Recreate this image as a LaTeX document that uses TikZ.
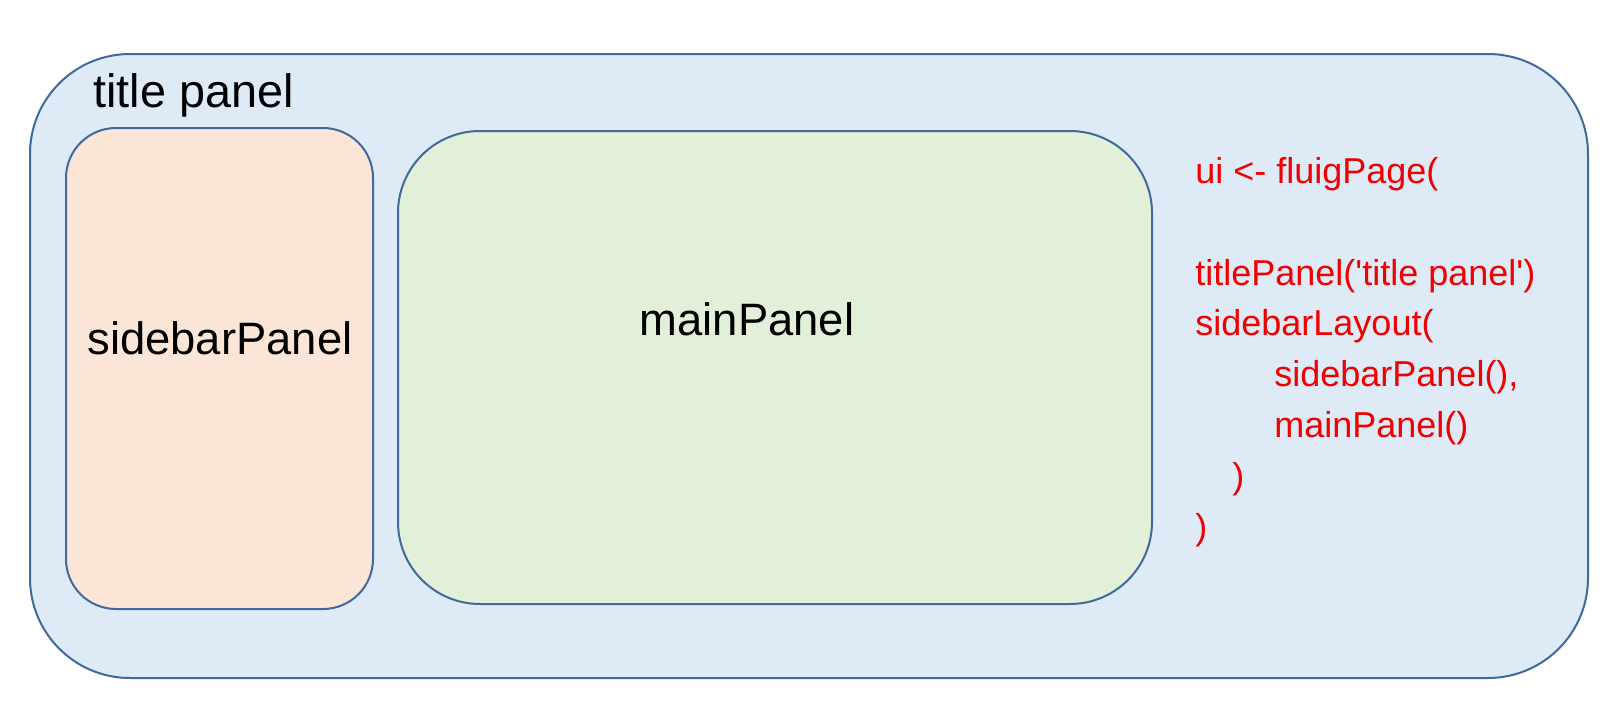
\documentclass[tikz,border=0pt]{standalone}
\usepackage{fontspec}
\setmainfont{Liberation Sans}
\definecolor{outerfill}{HTML}{DEEBF7}
\definecolor{sidefill}{HTML}{FBE5D6}
\definecolor{mainfill}{HTML}{E2F0D9}
\definecolor{edge}{HTML}{41699A}
\definecolor{code}{HTML}{F00000}
\begin{document}
\begin{tikzpicture}[x=0.5pt,y=-0.5pt,
  panel/.style={draw=edge, line width=1pt},
  lbl/.style={inner sep=0pt, anchor=base, font=\fontsize{22.7}{26}\selectfont},
  codeline/.style={inner sep=0pt, anchor=base west, text=code, font=\fontsize{18}{22}\selectfont}]
\useasboundingbox (0,0) rectangle (1624,712);
\node[panel, fill=outerfill, rounded corners=50pt, minimum width=779pt, minimum height=312pt, inner sep=0pt] (outer) at (809,366) {};
\node[panel, fill=sidefill, rounded corners=25pt, minimum width=153.5pt, minimum height=240.5pt, inner sep=0pt] (side) at (219.5,368.5) {};
\node[panel, fill=mainfill, rounded corners=41pt, minimum width=377pt, minimum height=236.5pt, inner sep=0pt] (main) at (775,367.5) {};
\node[lbl, anchor=base west, font=\fontsize{23.4}{26}\selectfont] (title) at (93,107) {title panel};
\node[lbl] (sidelbl) at (220,354) {sidebarPanel};
\node[lbl] (mainlbl) at (747,335) {mainPanel};
\node[codeline] (c1) at (1195,183) {ui <- fluigPage(};
\node[codeline] (c2) at (1195,285) {titlePanel(\textquotesingle title panel\textquotesingle)};
\node[codeline] (c3) at (1195,335) {sidebarLayout(};
\node[codeline] (c4) at (1274,386) {sidebarPanel(),};
\node[codeline] (c5) at (1274,437) {mainPanel()};
\node[codeline] (c6) at (1232,488) {)};
\node[codeline] (c7) at (1195,539) {)};
\end{tikzpicture}
\end{document}
